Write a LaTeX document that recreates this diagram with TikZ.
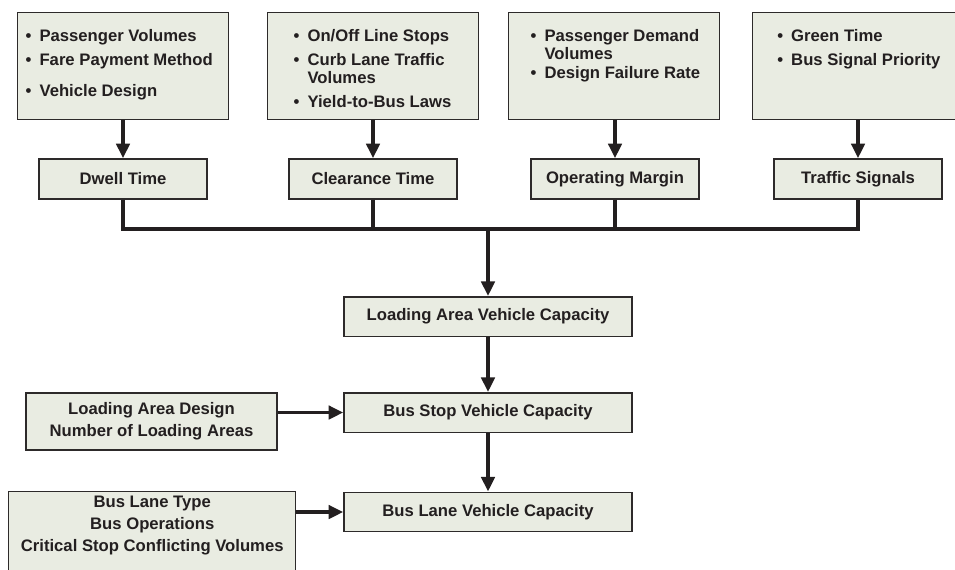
\documentclass[tikz,border=0pt]{standalone}
\usepackage{fontspec}
\setmainfont{Liberation Sans}
\usepackage{xcolor}
\usetikzlibrary{arrows.meta,positioning}

\definecolor{boxfill}{RGB}{233,236,226}
\definecolor{boxline}{RGB}{45,42,42}
\definecolor{ink}{RGB}{35,31,32}

% bulleted factor list, top aligned in a fixed box
\newcommand{\factorlist}[2]{%
  \begin{minipage}[c][80.25pt][t]{158.25pt}%
  \vspace*{12.3pt}\hspace*{#1}%
  \begin{tabular}[t]{@{}l@{\hspace{6pt}}l@{}}#2\end{tabular}%
  \end{minipage}}

\tikzset{
  box/.style={draw=boxline, fill=boxfill, line width=1.1pt, inner sep=0pt,
    text=ink, font=\bfseries\fontsize{12.5}{13.5}\selectfont},
  factor/.style={box, anchor=north west},
  stage/.style={box, minimum width=126pt, minimum height=30pt},
  capacity/.style={box, minimum width=216pt, minimum height=29.6pt},
  input/.style={box, align=center, font=\bfseries\fontsize{12.5}{16.5}\selectfont},
  link/.style={draw=ink, line width=2.6pt},
  flow/.style={link, -{Triangle[length=11pt,width=10pt]}}
}

\begin{document}
\begin{tikzpicture}[x=0.75pt,y=-0.75pt]
  \useasboundingbox (0,0) rectangle (955,569);

  % Factor boxes
  \node[factor] (inDwell) at (17,12) {\factorlist{6pt}{%
    \textbullet & Passenger Volumes\\[4.5pt]
    \textbullet & Fare Payment Method\\[9.75pt]
    \textbullet & Vehicle Design}};
  \node[factor] (inClear) at (267,12) {\factorlist{19.5pt}{%
    \textbullet & On/Off Line Stops\\[4.5pt]
    \textbullet & Curb Lane Traffic\\
                & Volumes\\[4.5pt]
    \textbullet & Yield-to-Bus Laws}};
  \node[factor] (inMargin) at (508,12) {\factorlist{16.5pt}{%
    \textbullet & Passenger Demand\\
                & Volumes\\[0.75pt]
    \textbullet & Design Failure Rate}};
  \node[factor] (inSignal) at (752,12) {\factorlist{18.5pt}{%
    \textbullet & Green Time\\[4.5pt]
    \textbullet & Bus Signal Priority}};

  % Stage boxes
  \node[stage] (dwell) at (123,179) {Dwell Time};
  \node[stage] (clear) at (373,179) {Clearance Time};
  \node[stage] (margin) at (615,179) {Operating Margin};
  \node[stage] (signal) at (858,179) {Traffic Signals};

  \draw[flow] (inDwell.south -| dwell) -- (dwell);
  \draw[flow] (inClear.south -| clear) -- (clear);
  \draw[flow] (inMargin.south -| margin) -- (margin);
  \draw[flow] (inSignal.south -| signal) -- (signal);

  % Collector line
  \coordinate (bus) at (488,229);
  \draw[link] (dwell.south) |- (bus) -| (signal.south);
  \draw[link] (clear.south) -- (clear.south |- bus);
  \draw[link] (margin.south) -- (margin.south |- bus);

  % Capacity chain
  \node[capacity] (area) at (488,316.5) {Loading Area Vehicle Capacity};
  \node[capacity] (stop) at (488,412.5) {Bus Stop Vehicle Capacity};
  \node[capacity] (lane) at (488,512) {Bus Lane Vehicle Capacity};
  \draw[flow] (bus) -- (area);
  \draw[flow] (area) -- (stop);
  \draw[flow] (stop) -- (lane);

  % Side inputs
  \node[input, minimum width=188.25pt, minimum height=42.75pt] (design) at (151.5,421.5)
    {Loading Area Design\\Number of Loading Areas};
  \node[factor, font=\bfseries\fontsize{12.5}{16.5}\selectfont] (laneIn) at (8,491)
    {\begin{minipage}[c][67.5pt][t]{215.25pt}\centering
     \vspace*{3.5pt}
     Bus Lane Type\\Bus Operations\\Critical Stop Conflicting Volumes\end{minipage}};
  \draw[flow] (design.east |- stop) -- (stop.west);
  \draw[flow] (laneIn.east |- lane) -- (lane.west);
\end{tikzpicture}
\end{document}
